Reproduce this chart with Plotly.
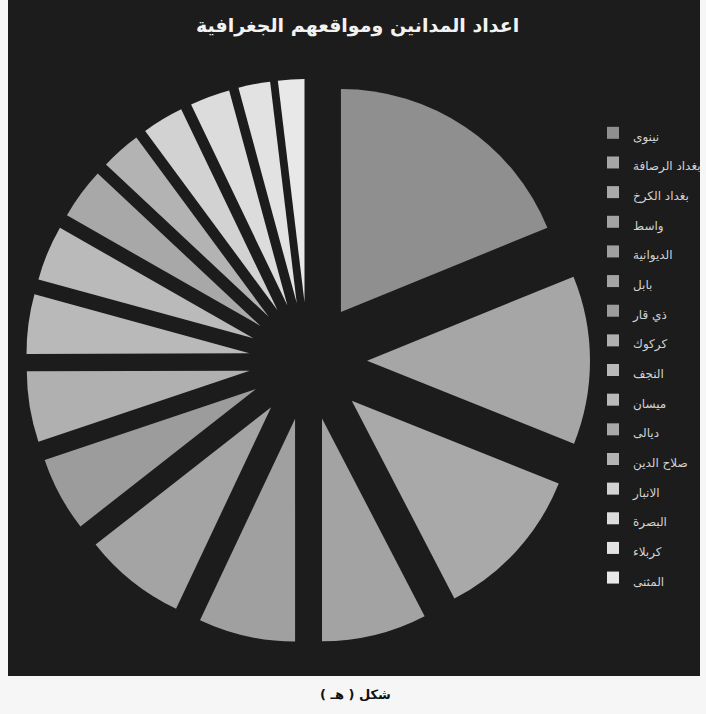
import plotly.graph_objects as go

# Governorates (legend order, clockwise from 12 o'clock)
provinces = [
    "نينوى", "بغداد الرصافة", "بغداد الكرخ", "واسط", "الديوانية", "بابل",
    "ذي قار", "كركوك", "النجف", "ميسان", "ديالى", "صلاح الدين",
    "الانبار", "البصرة", "كربلاء", "المثنى",
]
# Number of convicts per governorate
convicts = [188, 122, 113, 76, 70, 74, 54, 51, 43, 40, 37, 29, 30, 29, 23, 19]

slice_colors = [
    "#8f8f8f", "#a6a6a6", "#a9a9a9", "#a3a3a3", "#a0a0a0", "#a4a4a4",
    "#9c9c9c", "#b0b0b0", "#b9b9b9", "#bababa", "#a8a8a8", "#b3b3b3",
    "#d2d2d2", "#dcdcdc", "#e2e2e2", "#e8e8e8",
]

title_text = "اعداد المدانين ومواقعهم الجغرافية"
caption_text = "شكل ( هـ )\u200f"

W, H = 706, 714
ARABIC = "DejaVu Sans, Arial, sans-serif"

# legend rows are spaced by the base font size; the visible text is smaller
legend_labels = [f'<span style="font-size:12px">{p}</span>' for p in provinces]

cx, cy, half = 308, 361, 282  # pie centre and half-size of its domain in px

fig = go.Figure(
    go.Pie(
        labels=legend_labels,
        values=convicts,
        sort=False,
        direction="clockwise",
        rotation=0,
        pull=[0.265] * len(convicts),
        marker=dict(colors=slice_colors, line=dict(width=0)),
        textinfo="none",
        hoverinfo="label+value+percent",
        domain=dict(
            x=[(cx - half) / W, (cx + half) / W],
            y=[(H - cy - half) / H, (H - cy + half) / H],
        ),
    )
)

fig.update_layout(
    width=W,
    height=H,
    margin=dict(l=0, r=0, t=0, b=0),
    paper_bgcolor="#f6f6f6",
    showlegend=True,
    legend=dict(
        x=593 / W,
        xanchor="left",
        y=1 - 113 / H,
        yanchor="top",
        bgcolor="rgba(0,0,0,0)",
        font=dict(family=ARABIC, size=20.5, color="#d2d2d2"),
        traceorder="normal",
    ),
    shapes=[
        dict(
            type="rect", xref="paper", yref="paper", layer="below",
            x0=8 / W, x1=700 / W, y0=1 - 676 / H, y1=1,
            fillcolor="#1c1c1c", line=dict(width=0),
        )
    ],
    annotations=[
        dict(
            text=f"<b>{title_text}</b>", xref="paper", yref="paper",
            x=357 / W, y=1 - 26 / H, xanchor="center", yanchor="middle",
            showarrow=False, font=dict(family=ARABIC, size=19, color="#f2f2f2"),
        ),
        dict(
            text=f"<b>{caption_text}</b>", xref="paper", yref="paper",
            x=355 / W, y=1 - 694 / H, xanchor="center", yanchor="middle",
            showarrow=False, font=dict(family=ARABIC, size=13, color="#111111"),
        ),
    ],
)

fig.write_html("out.html")
